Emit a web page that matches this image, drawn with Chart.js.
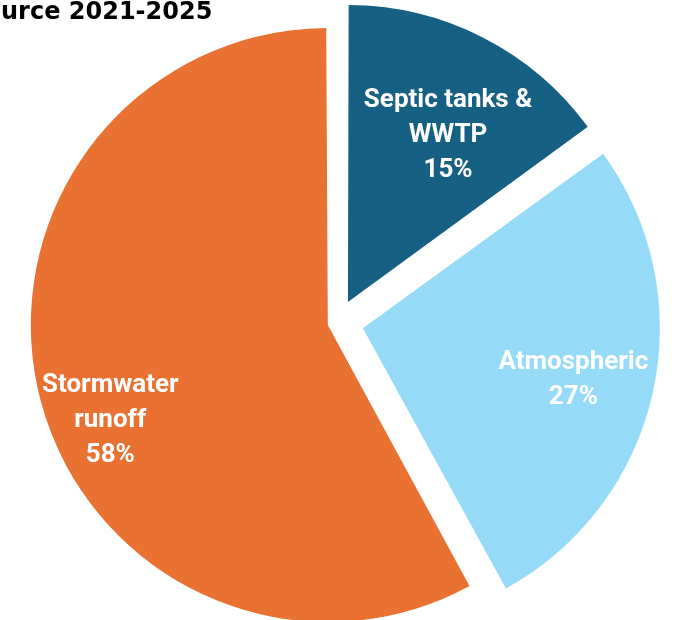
<!DOCTYPE html>
<html>
<head>
<meta charset="utf-8">
<style>
  html, body { margin: 0; padding: 0; background: #ffffff; }
  #wrap { position: relative; width: 675px; height: 620px; overflow: hidden; }
  canvas { display: block; }
</style>
<script src="https://cdn.jsdelivr.net/npm/chart.js@4/dist/chart.umd.min.js"></script>
</head>
<body>
<div id="wrap"><canvas id="pie" width="675" height="620"></canvas></div>
<script>
// Nitrogen load shares by source
const categories = [['Septic tanks &', 'WWTP'], ['Atmospheric'], ['Stormwater', 'runoff']];
const shares = [15, 27, 58];
const sliceColors = ['#166083', '#95DBF7', '#E97132'];
const titleText = 'urce 2021-2025';

// how far each wedge is pulled out from the centre (Chart.js offset units)
const explode = [92, 104, 40];
const PIE_RADIUS = 297;
// where each label block sits: fraction of the radius and angular nudge (degrees)
const labelPlacement = [
  { k: 0.74, turn: 3.2 },
  { k: 0.815, turn: 0.4 },
  { k: 0.83, turn: -8.4 }
];

const LABEL_SIZE = 26;
const LABEL_FONT = 'bold ' + LABEL_SIZE + 'px Roboto, "Liberation Sans", Arial, sans-serif';
const LABEL_LINE = 35;

// keep every exploded wedge at the same drawn radius
// (the arc element widens a wedge's radius as it is pulled out)
const evenRadius = {
  id: 'evenRadius',
  beforeDatasetsDraw(chart) {
    chart.getDatasetMeta(0).data.forEach(arc => {
      const off = (arc.options.offset || 0) / 4;
      const circ = arc.endAngle - arc.startAngle;
      const fix = 1 - Math.sin(Math.min(Math.PI, circ));
      arc.outerRadius = PIE_RADIUS - off * fix;
    });
  }
};

const titlePlugin = {
  id: 'cutTitle',
  afterDraw(chart) {
    const ctx = chart.ctx;
    ctx.save();
    ctx.fillStyle = '#000000';
    ctx.font = 'bold 24px "DejaVu Sans", sans-serif';
    ctx.textAlign = 'left';
    ctx.textBaseline = 'alphabetic';
    ctx.fillText(titleText, 1, 19);
    ctx.restore();
  }
};

const sliceLabels = {
  id: 'sliceLabels',
  afterDatasetsDraw(chart) {
    const ctx = chart.ctx;
    const meta = chart.getDatasetMeta(0);
    const data = chart.data.datasets[0].data;
    const total = data.reduce((a, b) => a + b, 0);
    ctx.save();
    ctx.font = LABEL_FONT;
    ctx.fillStyle = '#ffffff';
    ctx.textAlign = 'center';
    ctx.textBaseline = 'alphabetic';
    const capH = LABEL_SIZE * 0.711;
    meta.data.forEach((arc, i) => {
      const p = arc.getProps(['x', 'y', 'startAngle', 'endAngle'], true);
      const place = labelPlacement[i];
      const mid = (p.startAngle + p.endAngle) / 2 + place.turn * Math.PI / 180;
      const cx = p.x + Math.cos(mid) * PIE_RADIUS * place.k;
      const cy = p.y + Math.sin(mid) * PIE_RADIUS * place.k;
      const lines = [].concat(chart.data.labels[i], Math.round(data[i] / total * 100) + '%');
      const n = lines.length;
      lines.forEach((line, j) => {
        const by = cy - (n - 1) / 2 * LABEL_LINE + j * LABEL_LINE + capH / 2;
        ctx.fillText(line, cx, by);
      });
    });
    ctx.restore();
  }
};

new Chart(document.getElementById('pie'), {
  type: 'pie',
  data: {
    labels: categories,
    datasets: [{
      data: shares,
      backgroundColor: sliceColors,
      borderWidth: 0,
      offset: explode,
      hoverOffset: 0
    }]
  },
  options: {
    responsive: false,
    animation: false,
    events: [],
    devicePixelRatio: 1,
    radius: PIE_RADIUS,
    layout: { padding: { top: 25, bottom: 0, left: 0, right: 0 } },
    plugins: {
      legend: { display: false },
      title: { display: false },
      tooltip: { enabled: false }
    }
  },
  plugins: [evenRadius, sliceLabels, titlePlugin]
});
</script>
</body>
</html>
